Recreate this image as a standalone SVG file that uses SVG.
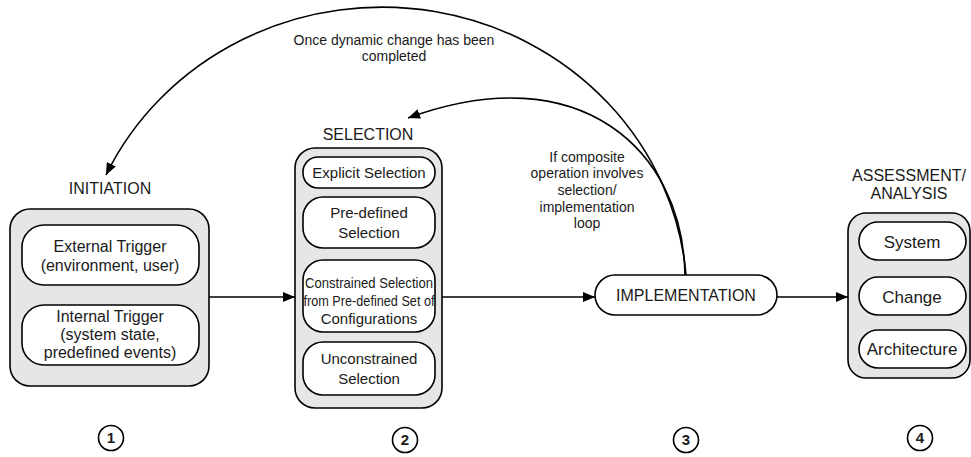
<svg xmlns="http://www.w3.org/2000/svg" width="971" height="457" viewBox="0 0 971 457">
<defs>
<marker id="arr" markerUnits="userSpaceOnUse" markerWidth="14" markerHeight="10" refX="12" refY="5" orient="auto">
<path d="M0,0 L12,5 L0,10 z" fill="#000"/>
</marker>
<style>
.outer{fill:#e6e6e6;stroke:#000;stroke-width:1.6}
.inner{fill:#fff;stroke:#000;stroke-width:1.6}
.t{font-family:"Liberation Sans",Arial,sans-serif;font-size:16px;fill:#1a1a1a;text-anchor:middle}
.m{font-family:"Liberation Sans",Arial,sans-serif;font-size:15px;fill:#1a1a1a;text-anchor:middle}
.a{font-family:"Liberation Sans",Arial,sans-serif;font-size:17px;fill:#1a1a1a;text-anchor:middle}
.s{font-family:"Liberation Sans",Arial,sans-serif;font-size:14px;fill:#1a1a1a;text-anchor:middle}
.n{font-family:"Liberation Sans",Arial,sans-serif;font-size:15px;font-weight:bold;fill:#1a1a1a;text-anchor:middle}
.c{fill:#fff;stroke:#000;stroke-width:1.6}
.ln{fill:none;stroke:#000;stroke-width:1.6}
</style>
</defs>
<rect width="971" height="457" fill="#fff"/>

<g id="initiation">
<text class="t" x="110" y="194">INITIATION</text>
<rect class="outer" x="10" y="209" width="199" height="177" rx="20"/>
<rect class="inner" x="22" y="225" width="177" height="60" rx="22"/>
<text class="t" x="110" y="252">External Trigger</text>
<text class="t" x="110" y="271">(environment, user)</text>
<rect class="inner" x="22" y="305" width="177" height="60" rx="22"/>
<text class="t" x="110" y="322">Internal Trigger</text>
<text class="t" x="110" y="340">(system state,</text>
<text class="t" x="110" y="358">predefined events)</text>
</g>

<g id="selection">
<text class="t" x="368" y="140">SELECTION</text>
<rect class="outer" x="295" y="148" width="147" height="260" rx="20"/>
<rect class="inner" x="303" y="157" width="132" height="31" rx="15"/>
<text class="m" x="369" y="178">Explicit Selection</text>
<rect class="inner" x="303" y="197" width="132" height="51" rx="20"/>
<text class="m" x="369" y="218">Pre-defined</text>
<text class="m" x="369" y="238">Selection</text>
<rect class="inner" x="303" y="260" width="132" height="72" rx="20"/>
<text class="m" x="369" y="288" textLength="128" lengthAdjust="spacingAndGlyphs">Constrained Selection</text>
<text class="m" x="369" y="306" textLength="131" lengthAdjust="spacingAndGlyphs">from Pre-defined Set of</text>
<text class="m" x="369" y="324">Configurations</text>
<rect class="inner" x="303" y="342" width="132" height="53" rx="20"/>
<text class="m" x="369" y="364">Unconstrained</text>
<text class="m" x="369" y="384">Selection</text>
</g>

<g id="implementation">
<rect class="inner" x="595" y="275" width="182" height="40" rx="20"/>
<text class="t" x="686" y="301">IMPLEMENTATION</text>
</g>

<g id="assessment">
<text class="t" x="909" y="181">ASSESSMENT/</text>
<text class="t" x="909" y="199">ANALYSIS</text>
<rect class="outer" x="848" y="213" width="122" height="165" rx="18"/>
<rect class="inner" x="859" y="222" width="107" height="38" rx="19"/>
<text class="a" x="912" y="248">System</text>
<rect class="inner" x="859" y="277" width="107" height="38" rx="19"/>
<text class="a" x="912" y="303">Change</text>
<rect class="inner" x="859" y="330" width="107" height="38" rx="19"/>
<text class="a" x="912" y="355">Architecture</text>
</g>

<g id="connectors">
<line class="ln" x1="209" y1="297" x2="295" y2="297" marker-end="url(#arr)"/>
<line class="ln" x1="442" y1="297" x2="595" y2="297" marker-end="url(#arr)"/>
<line class="ln" x1="777" y1="297" x2="848" y2="297" marker-end="url(#arr)"/>
<path class="ln" d="M686,275 A305,292 0 0 0 106,175" marker-end="url(#arr)"/>
<path class="ln" d="M685,275 C683,150 580,55 408,118" marker-end="url(#arr)"/>
<text class="s" x="394" y="45">Once dynamic change has been</text>
<text class="s" x="394" y="61">completed</text>
<text class="s" x="587" y="162">If composite</text>
<text class="s" x="587" y="178">operation involves</text>
<text class="s" x="587" y="195">selection/</text>
<text class="s" x="587" y="212">implementation</text>
<text class="s" x="587" y="228">loop</text>
</g>

<g id="step1"><circle class="c" cx="111" cy="438" r="12.5"/><text class="n" x="111" y="443">1</text></g>
<g id="step2"><circle class="c" cx="405" cy="440" r="12.5"/><text class="n" x="405" y="445">2</text></g>
<g id="step3"><circle class="c" cx="686" cy="440" r="12.5"/><text class="n" x="686" y="445">3</text></g>
<g id="step4"><circle class="c" cx="920" cy="438" r="12.5"/><text class="n" x="920" y="443">4</text></g>
</svg>
